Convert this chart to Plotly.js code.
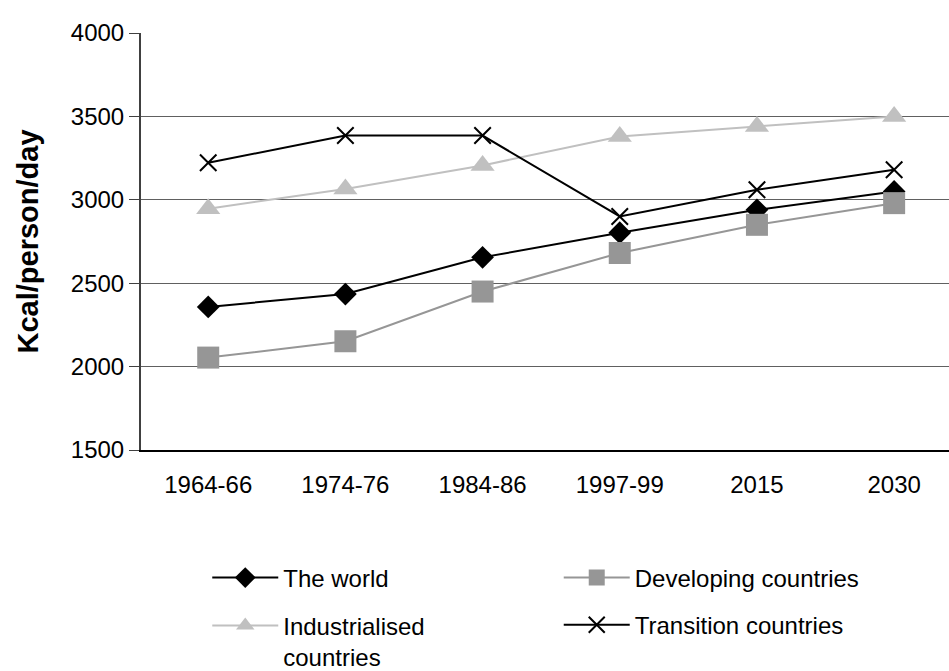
<!DOCTYPE html>
<html>
<head>
<meta charset="utf-8">
<script src="https://cdn.plot.ly/plotly-3.0.1.min.js"></script>
<style>
html,body{margin:0;padding:0;background:#fff;}
#chart{width:949px;height:671px;}
</style>
</head>
<body>
<div id="chart"></div>
<script>
const periods = ["1964-66", "1974-76", "1984-86", "1997-99", "2015", "2030"];
const world = [2358, 2435, 2655, 2803, 2940, 3050];
const developing = [2054, 2152, 2450, 2681, 2850, 2980];
const industrialised = [2947, 3065, 3206, 3380, 3440, 3500];
const transition = [3222, 3385, 3385, 2900, 3060, 3180];
const yTicks = [1500, 2000, 2500, 3000, 3500, 4000];

const FONT = "Liberation Sans, Arial, sans-serif";
const FS = 24;

const traces = [
  {
    x: periods, y: world, name: "The world", type: "scatter", mode: "lines+markers",
    line: {color: "#000000", width: 2},
    marker: {symbol: "diamond", size: 17.5, color: "#000000"},
    legend: "legend"
  },
  {
    x: periods, y: developing, name: "Developing countries", type: "scatter", mode: "lines+markers",
    line: {color: "#969696", width: 2},
    marker: {symbol: "square", size: 22, color: "#969696"},
    legend: "legend2"
  },
  {
    x: periods, y: industrialised, name: "Industrialised<br>countries", type: "scatter", mode: "lines+markers",
    line: {color: "#c0c0c0", width: 2},
    marker: {symbol: "triangle-up", size: 21, color: "#c0c0c0"},
    legend: "legend3"
  },
  {
    x: periods, y: transition, name: "Transition countries", type: "scatter", mode: "lines+markers",
    line: {color: "#000000", width: 2},
    marker: {symbol: "x-thin", size: 16.5, color: "#000000", line: {color: "#000000", width: 2}},
    legend: "legend4"
  }
];

const legendBase = {
  font: {family: FONT, size: FS, color: "#000000"},
  bgcolor: "rgba(0,0,0,0)",
  borderwidth: 0,
  itemwidth: 66,
  valign: "top",
  xanchor: "left",
  yanchor: "middle",
  xref: "paper",
  yref: "paper"
};

const layout = {
  width: 949,
  height: 671,
  margin: {l: 141, r: 0, t: 33, b: 221, autoexpand: false},
  paper_bgcolor: "#ffffff",
  plot_bgcolor: "#ffffff",
  font: {family: FONT, size: FS, color: "#000000"},
  showlegend: true,
  xaxis: {
    type: "category",
    categoryorder: "array",
    categoryarray: periods,
    range: [-0.49, 5.4],
    showgrid: false,
    zeroline: false,
    showline: true,
    linecolor: "#000000",
    linewidth: 2,
    ticks: "",
    ticklabelstandoff: 12,
    tickfont: {family: FONT, size: FS, color: "#000000"},
    fixedrange: true
  },
  yaxis: {
    range: [1500, 4000],
    tickvals: yTicks,
    ticktext: yTicks.map(String),
    showgrid: true,
    gridcolor: "#606060",
    gridwidth: 1,
    zeroline: false,
    showline: true,
    linecolor: "#404040",
    linewidth: 2,
    ticks: "outside",
    ticklen: 10,
    tickcolor: "#404040",
    tickwidth: 1,
    tickfont: {family: FONT, size: FS, color: "#000000"},
    title: {text: "<b>Kcal/person/day</b>", font: {family: FONT, size: 29, color: "#000000"}, standoff: 24},
    fixedrange: true
  },
  legend: Object.assign({}, legendBase, {x: 0.082, y: -0.307}),
  legend2: Object.assign({}, legendBase, {x: 0.517, y: -0.307}),
  legend3: Object.assign({}, legendBase, {x: 0.082, y: -0.459}),
  legend4: Object.assign({}, legendBase, {x: 0.517, y: -0.42})
};

Plotly.newPlot("chart", traces, layout, {displayModeBar: false, staticPlot: true});
</script>
</body>
</html>
